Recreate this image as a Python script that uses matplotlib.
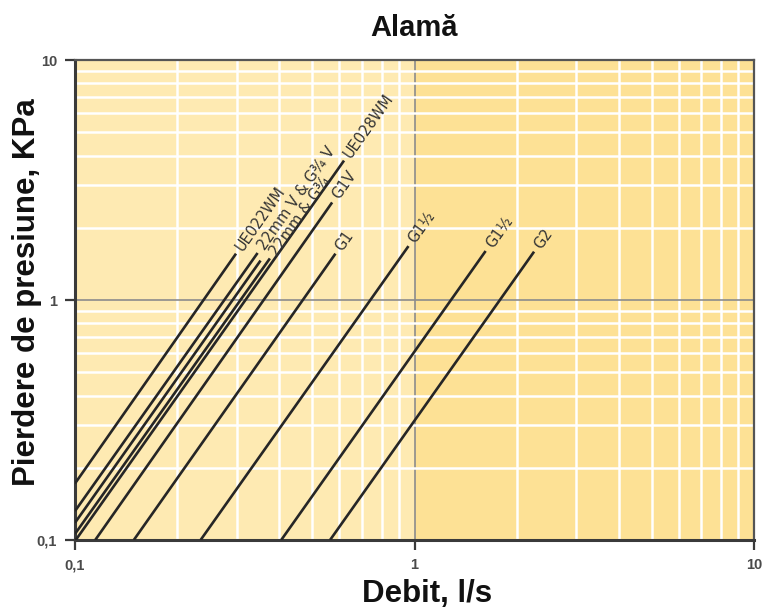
import math
import matplotlib
matplotlib.use("Agg")
import matplotlib.pyplot as plt
from matplotlib.ticker import FixedLocator, FixedFormatter, LogLocator, NullFormatter

# Pressure-loss characteristics of brass fittings (flow l/s vs loss kPa)
series_names = ["UE022WM", "22mm V & G¾ V", "", "22mm & G¾", "UE028WM",
                "G1V", "G1", "G1½", "G1½", "G2"]
flow_start = [0.1, 0.1, 0.1, 0.1, 0.1, 0.1147, 0.149, 0.2344, 0.405, 0.564]
loss_start = [0.172, 0.132, 0.118, 0.106, 0.099, 0.1, 0.1, 0.1, 0.1, 0.1]
flow_end = [0.298, 0.345, 0.352, 0.375, 0.62, 0.572, 0.585, 0.96, 1.62, 2.25]
loss_end = [1.56, 1.57, 1.46, 1.49, 3.81, 2.55, 1.56, 1.677, 1.60, 1.59]

x_ticks = [0.1, 1, 10]
x_tick_labels = ["0,1", "1", "10"]
y_ticks = [0.1, 1, 10]
y_tick_labels = ["0,1", "1", "10"]

plt.rcParams["font.family"] = ["Liberation Sans", "DejaVu Sans"]

W, H = 763, 612
fig = plt.figure(figsize=(W / 100, H / 100), dpi=100)
left, right, bottom, top = 75, 754, 540, 60
ax = fig.add_axes([left / W, 1 - bottom / H, (right - left) / W, (bottom - top) / H])

ax.set_xscale("log")
ax.set_yscale("log")
ax.set_xlim(0.1, 10)
ax.set_ylim(0.1, 10)

# two-tone background per decade
ax.axvspan(0.1, 1, color="#FEEAB2", zorder=0, lw=0)
ax.axvspan(1, 10, color="#FDE195", zorder=0, lw=0)
ax.set_axisbelow("line")

ax.xaxis.set_major_locator(FixedLocator(x_ticks))
ax.xaxis.set_major_formatter(FixedFormatter(x_tick_labels))
ax.yaxis.set_major_locator(FixedLocator(y_ticks))
ax.yaxis.set_major_formatter(FixedFormatter(y_tick_labels))
for axis in (ax.xaxis, ax.yaxis):
    axis.set_minor_locator(LogLocator(base=10, subs=range(2, 10)))
    axis.set_minor_formatter(NullFormatter())

ax.grid(which="minor", color="white", lw=1.8)
ax.grid(which="major", color="#8c8c8c", lw=1.2)
ax.tick_params(which="minor", length=0)
ax.tick_params(which="major", length=7, width=1.6, color="#3a3a3a",
               labelsize=10.5, labelcolor="#4a4a4a", pad=6)
for lbl in ax.get_xticklabels() + ax.get_yticklabels():
    lbl.set_fontweight("bold")

for side in ("left", "bottom"):
    ax.spines[side].set_color("#3a3a3a")
    ax.spines[side].set_linewidth(2.2)
for side in ("top", "right"):
    ax.spines[side].set_color("#555555")
    ax.spines[side].set_linewidth(1.6)

for name, q0, p0, q1, p1 in zip(series_names, flow_start, loss_start, flow_end, loss_end):
    ax.plot([q0, q1], [p0, p1], color="#262626", lw=1.9, zorder=3,
            solid_capstyle="butt")
    if name:
        a = ax.transData.transform((q0, p0))
        b = ax.transData.transform((q1, p1))
        ang = math.degrees(math.atan2(b[1] - a[1], b[0] - a[0]))
        dx = 4 * math.cos(math.radians(ang))
        dy = 4 * math.sin(math.radians(ang))
        ax.annotate(name, xy=(q1, p1), xytext=(dx, dy), textcoords="offset points",
                    rotation=ang, rotation_mode="anchor", ha="left", va="center",
                    fontsize=10.5, color="#333333", family=["DejaVu Sans"],
                    zorder=4)

fig.text((left + right) / 2 / W, 1 - 28 / H, "Alamă", ha="center", va="center",
         fontsize=21, fontweight="bold", color="#111111")
fig.text(427 / W, 1 - 594 / H, "Debit, l/s", ha="center", va="center",
         fontsize=22.5, fontweight="bold", color="#111111")
fig.text(27 / W, 1 - 292 / H, "Pierdere de presiune, KPa", ha="center", va="center",
         rotation=90, fontsize=22.5, fontweight="bold", color="#111111")

fig.savefig("out.png", dpi=100)
